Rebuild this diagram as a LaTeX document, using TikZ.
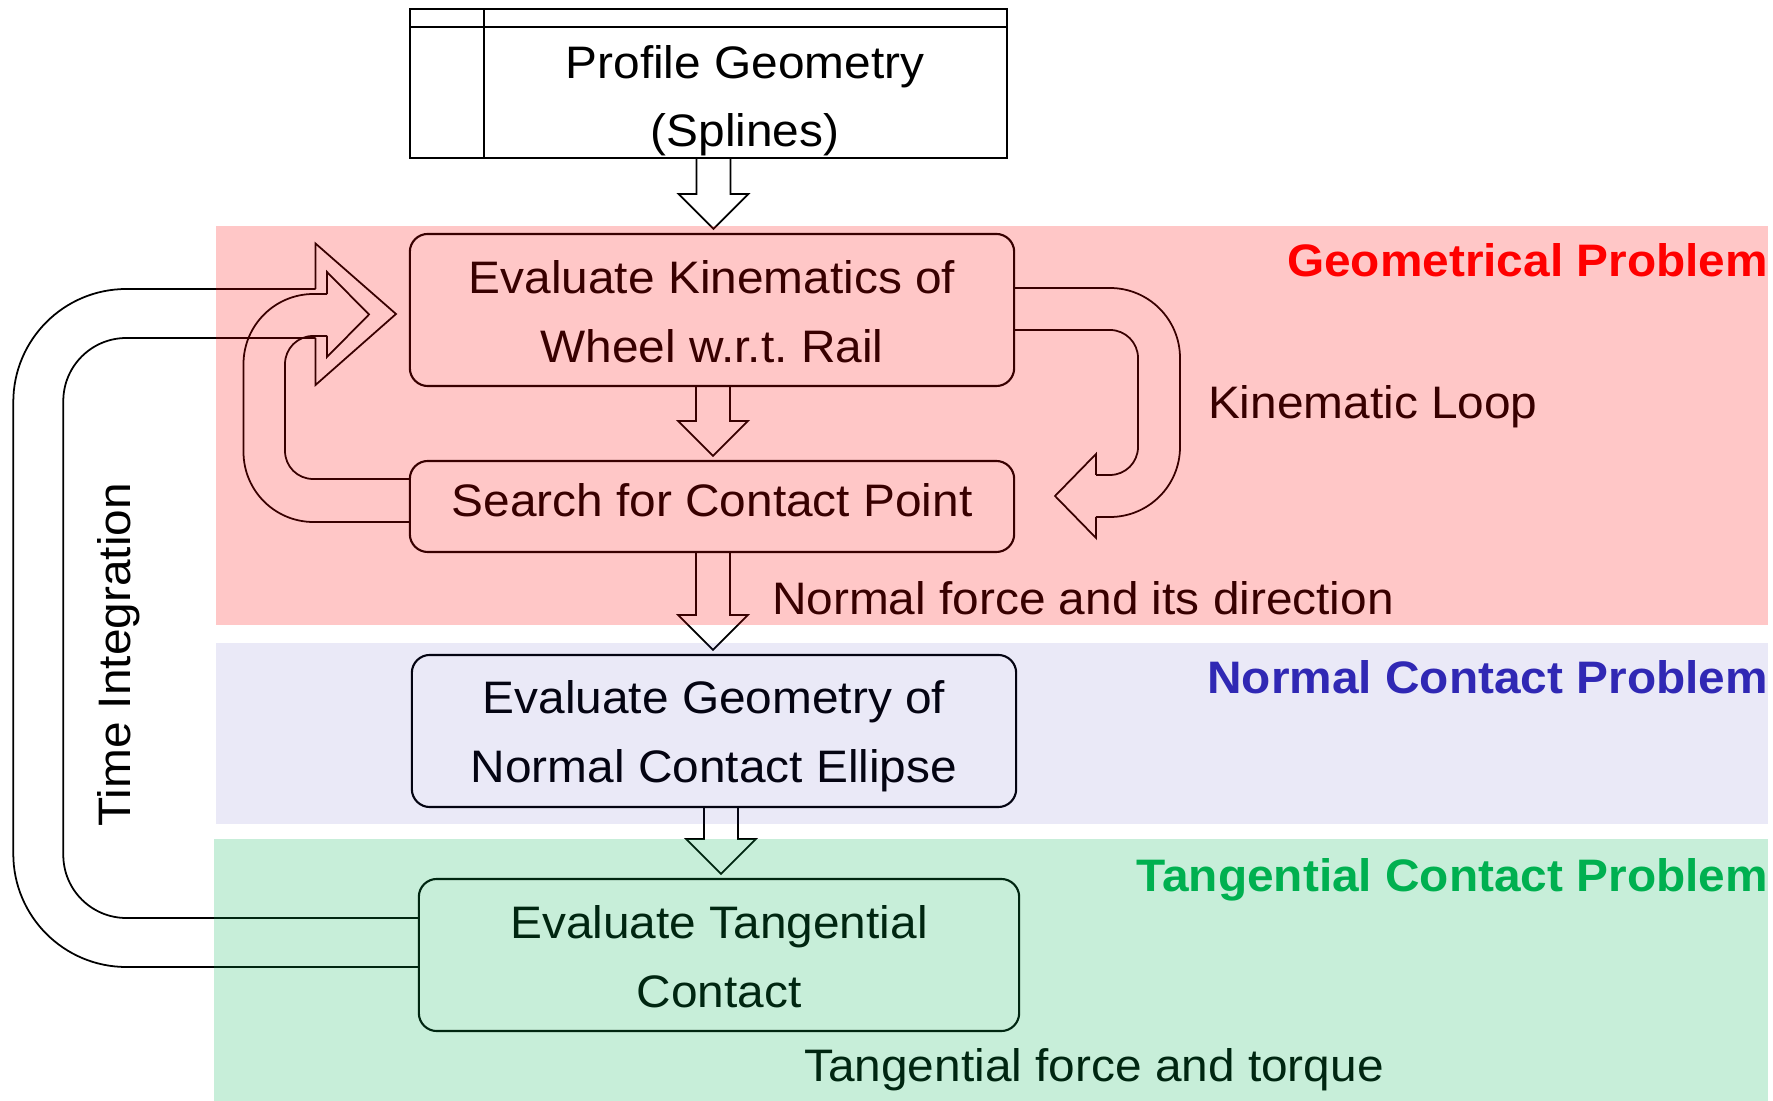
\documentclass[tikz,border=0pt]{standalone}
\usepackage{fontspec}
\usepackage{graphicx}
\setmainfont{Liberation Sans}
\usetikzlibrary{calc}
\frenchspacing
\definecolor{tgreen}{RGB}{0,176,80}
\definecolor{nblue}{RGB}{48,40,180}
\definecolor{gred}{RGB}{255,0,0}
\newcommand\lbl{\fontsize{12.95pt}{19.6pt}\selectfont}
\newcommand\sx[1]{\scalebox{1.05}[1]{#1}}
\tikzset{
  box/.style={draw, rounded corners=0.18cm, line width=0.6pt, inner sep=0pt, outer sep=0pt},
  sqbox/.style={draw, line width=0.6pt, inner sep=0pt, outer sep=0pt},
  txt/.style={inner sep=0pt, outer sep=0pt, font=\lbl, anchor=base},
  ttl/.style={inner sep=0pt, outer sep=0pt, font=\lbl\bfseries, anchor=base east},
  blk/.style={draw, line width=0.5pt, line join=miter},
  band/.style={fill opacity=0.22},
}
\newcommand\blockdown[3]{%
  \coordinate (bdS) at (#1.south-|#3);
  \coordinate (bdT) at ($(#2.north-|#3)+(0,-5)$);
  \draw[blk] ($(bdS)+(-17,0)$) -- ($(bdT)+(-17,-35)$) -- ($(bdT)+(-35,-35)$) -- (bdT)
    -- ($(bdT)+(35,-35)$) -- ($(bdT)+(17,-35)$) -- ($(bdS)+(17,0)$);}
\begin{document}
\begin{tikzpicture}[x=0.01cm,y=-0.01cm]
\useasboundingbox (0,0) rectangle (1773,1101);

% boxes
\node[sqbox, minimum width=5.97cm, minimum height=1.49cm] (prof) at (708.5,83.5) {};
\draw[line width=0.6pt] (prof.north west|-0,27) -- (prof.north east|-0,27);
\draw[line width=0.6pt] (484,0|-prof.north) -- (484,0|-prof.south);
\node[box, minimum width=6.04cm, minimum height=1.52cm] (kin) at (712,310) {};
\node[box, minimum width=6.04cm, minimum height=0.91cm] (srch) at (712,506.5) {};
\node[box, minimum width=6.04cm, minimum height=1.52cm] (norm) at (714,731) {};
\node[box, minimum width=6.00cm, minimum height=1.52cm] (tang) at (719,955) {};

% box texts
\node[txt] (profA) at (745,79) {\sx{Profile Geometry}};
\node[txt] (profB) at (745,147) {\sx{(Splines)}};
\node[txt] (kinA) at (712,294) {\sx{Evaluate Kinematics of}};
\node[txt] (kinB) at (712,363) {\sx{Wheel w.r.t. Rail}};
\node[txt] (srchA) at (712,517) {\sx{Search for Contact Point}};
\node[txt] (normA) at (714,714) {\sx{Evaluate Geometry of}};
\node[txt] (normB) at (714,783) {\sx{Normal Contact Ellipse}};
\node[txt] (tangA) at (719,938) {\sx{Evaluate Tangential}};
\node[txt] (tangB) at (719,1007) {\sx{Contact}};

% straight block arrows
\coordinate (ax1) at (713.5,0);
\coordinate (ax2) at (713,0);
\coordinate (ax4) at (721,0);
\blockdown{prof}{kin}{ax1}
\blockdown{kin}{srch}{ax2}
\blockdown{srch}{norm}{ax2}
\blockdown{norm}{tang}{ax4}

% kinematic loop (right)
\draw[blk, rounded corners=0.7cm] (kin.east|-0,288) -- (1180,288) -- (1180,517) -- (1096,517);
\draw[blk, rounded corners=0.28cm] (kin.east|-0,330) -- (1138,330) -- (1138,475) -- (1096,475);
\draw[blk] (1096,475) -- (1096,454) -- (1055,496) -- (1096,538) -- (1096,517);

% kinematic loop (left)
\draw[blk, rounded corners=0.7cm] (srch.west|-0,522) -- (243.5,522) -- (243.5,294) -- (327,294);
\draw[blk, rounded corners=0.28cm] (srch.west|-0,479) -- (285,479) -- (285,336) -- (327,336);
\draw[blk] (327,294) -- (327,272) -- (369,314.5) -- (327,357) -- (327,336);

% time integration loop
\draw[blk, rounded corners=1.13cm] (tang.west|-0,967) -- (13.3,967) -- (13.3,289) -- (315.5,289);
\draw[blk, rounded corners=0.63cm] (tang.west|-0,918) -- (63.3,918) -- (63.3,338) -- (315.5,338);
\draw[blk] (315.5,289) -- (315.5,243.5) -- (396,314) -- (315.5,385) -- (315.5,338);

% free labels
\node[txt, anchor=base west] (kloop) at (1208,419) {\sx{Kinematic Loop}};
\node[txt, anchor=base west] (nforce) at (772,615) {\sx{Normal force and its direction}};
\node[txt] (tforce) at (1094,1081) {\sx{Tangential force and torque}};
\node[txt, rotate=90] (tint) at (130,655) {\sx{Time Integration}};

% translucent bands
\fill[gred, band] (216,226) rectangle (1768,625);
\fill[nblue, fill opacity=0.1] (216,643) rectangle (1768,824);
\fill[tgreen, band] (214,839) rectangle (1768,1101);

% band titles
\node[ttl, text=gred] (geoT) at (1768,277) {\sx{Geometrical Problem}};
\node[ttl, text=nblue] (ncpT) at (1768,694) {\sx{Normal Contact Problem}};
\node[ttl, text=tgreen] (tcpT) at (1768,891) {\sx{Tangential Contact Problem}};
\end{tikzpicture}
\end{document}
